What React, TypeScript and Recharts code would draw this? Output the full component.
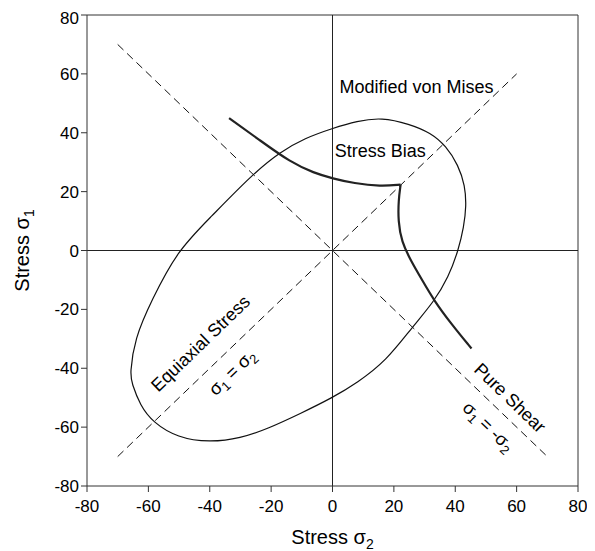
import {
  ComposedChart,
  Line,
  XAxis,
  YAxis,
  ReferenceLine,
  ReferenceDot,
  Label,
} from 'recharts';

const FONT = '"Liberation Sans", Arial, sans-serif';

const axisTicks = [-80, -60, -40, -20, 0, 20, 40, 60, 80];

// closed yield surface
const vonMises: [number, number][] = [
  [-66, -42], [-64.5, -30], [-59, -17], [-50.5, 0], [-40, 11], [-26, 26],
  [-17, 33.5], [-9, 38.2], [0, 41.5], [8, 44], [16, 45.2], [25, 43],
  [32, 40], [37, 35.5], [41, 29], [43.2, 22], [43.6, 15], [42.8, 8],
  [41, 0], [37.8, -9], [33, -17.5], [26, -26], [17.5, -37.5], [8, -45],
  [0, -50], [-10.5, -55.4], [-21, -60.5], [-30, -63.8], [-40, -65.2], [-50.5, -63.6],
  [-58.5, -58.4], [-62.7, -52.6], [-65.4, -45],
];

// stress bias curve, two branches meeting at the cusp
const biasUpper: [number, number][] = [
  [-33.7, 45], [-23.5, 37.3], [-13.7, 30], [-6, 26.3], [0, 24.5],
  [7, 22.8], [15.7, 21.8], [22.2, 22.4],
];
const biasLower: [number, number][] = [
  [22.2, 22.4], [21.5, 17], [21.4, 10], [22.5, 3], [25.5, -3.4],
  [29.3, -10.2], [33.1, -17], [38.6, -24.8], [45.3, -33.3],
];

const equiaxial: [number, number][] = [[-70, -70], [60, 60]];
const pureShear: [number, number][] = [[-70, 70], [70, -70]];

const toPts = (arr: [number, number][]) => arr.map(([x, y]) => ({ x, y }));

function rotatedText(angle: number, content: React.ReactNode, size = 18) {
  // eslint-disable-next-line @typescript-eslint/no-explicit-any
  return (p: any) => (
    <text
      x={p.cx}
      y={p.cy}
      transform={`rotate(${angle} ${p.cx} ${p.cy})`}
      textAnchor="middle"
      dominantBaseline="central"
      fontFamily={FONT}
      fontSize={size}
      fill="#000"
    >
      {content}
    </text>
  );
}

const sigmaEq = (neg: boolean) => (
  <>
    σ<tspan fontSize={13} dy={5}>1</tspan>
    <tspan dy={-5}>{neg ? ' = -σ' : ' = σ'}</tspan>
    <tspan fontSize={13} dy={5}>2</tspan>
  </>
);

export default function App() {
  const lineProps = {
    dataKey: 'y',
    dot: false,
    activeDot: false,
    isAnimationActive: false,
    legendType: 'none' as const,
  };

  return (
    <ComposedChart
      width={587}
      height={543}
      margin={{ top: 7, right: 17, left: 0, bottom: 0 }}
    >
      <XAxis
        type="number"
        dataKey="x"
        domain={[-80, 80]}
        ticks={axisTicks}
        allowDataOverflow
        height={65}
        tickSize={6}
        tickMargin={8}
        stroke="#333"
        tick={{ fontSize: 17, fill: '#000', fontFamily: FONT }}
      >
        <Label
          // eslint-disable-next-line @typescript-eslint/no-explicit-any
          content={(props: any) => {
            const { x, y, width } = props.viewBox;
            return (
              <text
                x={x + width / 2}
                y={y + 58}
                textAnchor="middle"
                fontFamily={FONT}
                fontSize={20}
                fill="#000"
              >
                Stress σ<tspan fontSize={14} dy={5}>2</tspan>
              </text>
            );
          }}
        />
      </XAxis>
      <YAxis
        type="number"
        dataKey="y"
        domain={[-80, 80]}
        ticks={axisTicks}
        allowDataOverflow
        width={79}
        tickSize={6}
        tickMargin={2}
        stroke="#333"
        tick={{ fontSize: 17, fill: '#000', fontFamily: FONT }}
      >
        <Label
          // eslint-disable-next-line @typescript-eslint/no-explicit-any
          content={(props: any) => {
            const { y, height } = props.viewBox;
            const cx = 21;
            const cy = y + height / 2;
            return (
              <text
                x={cx}
                y={cy}
                transform={`rotate(-90 ${cx} ${cy})`}
                textAnchor="middle"
                fontFamily={FONT}
                fontSize={20}
                fill="#000"
              >
                Stress σ<tspan fontSize={14} dy={5}>1</tspan>
              </text>
            );
          }}
        />
      </YAxis>

      <ReferenceLine y={80} stroke="#333" ifOverflow="visible" />
      <ReferenceLine x={80} stroke="#333" ifOverflow="visible" />
      <ReferenceLine y={0} stroke="#222" />
      <ReferenceLine x={0} stroke="#222" />

      <Line {...lineProps} data={toPts(equiaxial)} type="linear" stroke="#111" strokeWidth={1} strokeDasharray="8 5" />
      <Line {...lineProps} data={toPts(pureShear)} type="linear" stroke="#111" strokeWidth={1} strokeDasharray="8 5" />
      <Line {...lineProps} data={toPts(vonMises)} type="basisClosed" stroke="#111" strokeWidth={1.2} />
      <Line {...lineProps} data={toPts(biasUpper)} type="basis" stroke="#222" strokeWidth={2.2} />
      <Line {...lineProps} data={toPts(biasLower)} type="basis" stroke="#222" strokeWidth={2.2} />

      <ReferenceDot x={27.4} y={55.7} r={0} shape={rotatedText(0, 'Modified von Mises')} />
      <ReferenceDot x={15.6} y={33.9} r={0} shape={rotatedText(0, 'Stress Bias')} />
      <ReferenceDot x={-43} y={-31.6} r={0} shape={rotatedText(-44, 'Equiaxial Stress')} />
      <ReferenceDot x={-32.7} y={-41.4} r={0} shape={rotatedText(-44, sigmaEq(false))} />
      <ReferenceDot x={57.8} y={-50.1} r={0} shape={rotatedText(44, 'Pure Shear')} />
      <ReferenceDot x={50.8} y={-59.8} r={0} shape={rotatedText(44, sigmaEq(true))} />
    </ComposedChart>
  );
}
